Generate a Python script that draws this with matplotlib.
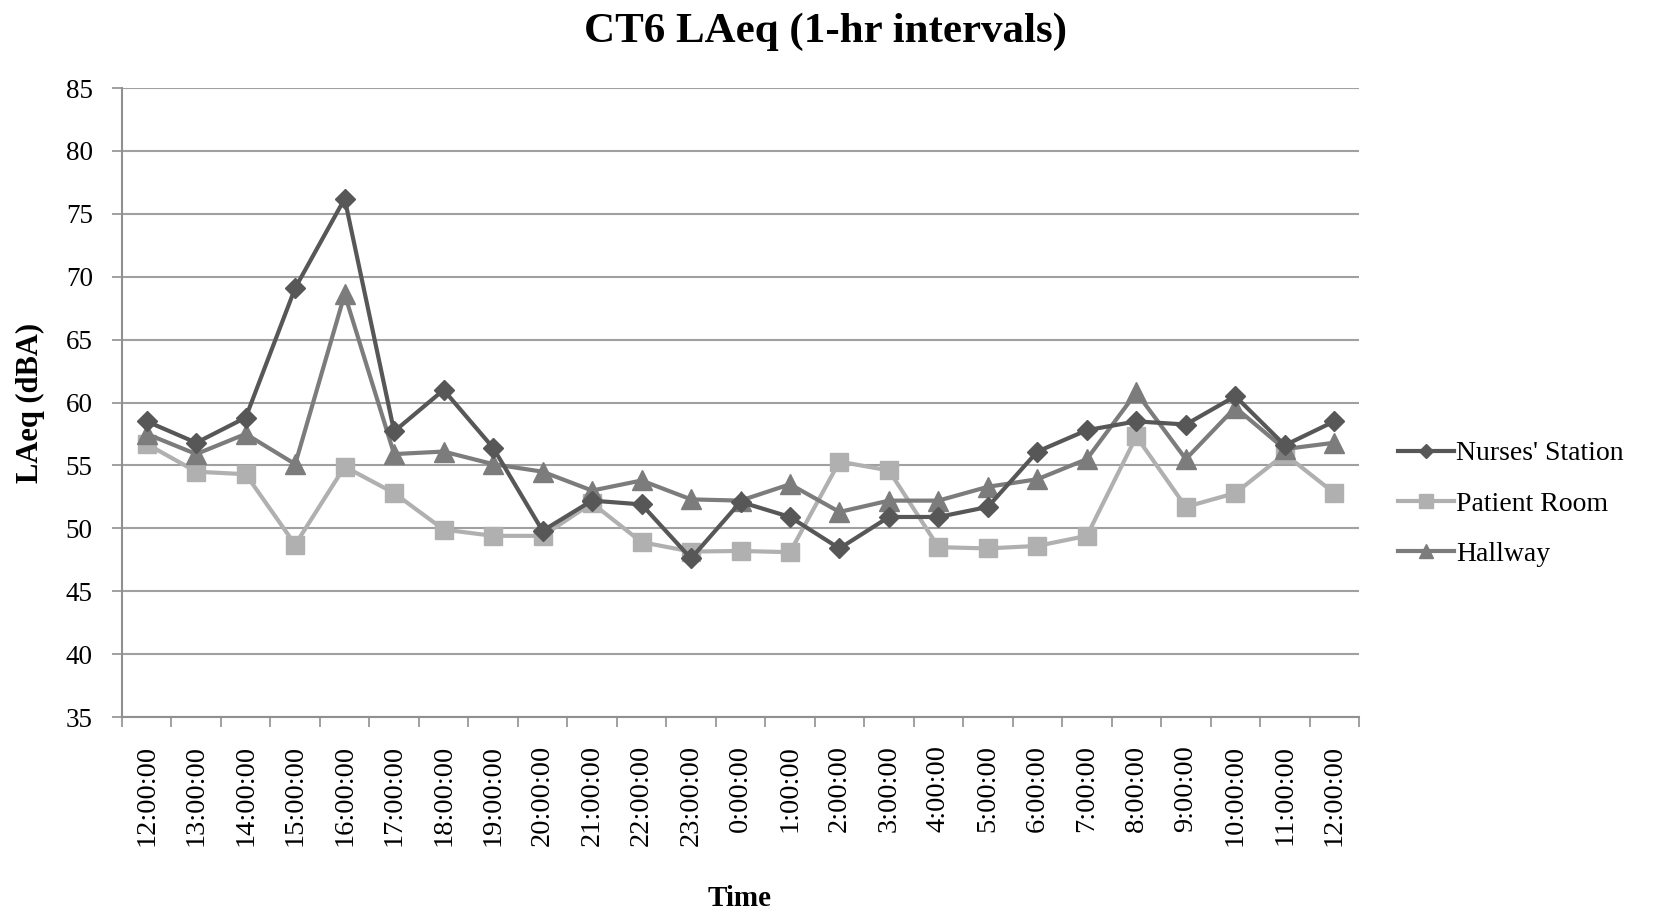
import matplotlib
matplotlib.use("Agg")
import matplotlib.pyplot as plt
import numpy as np

times = ["12:00:00", "13:00:00", "14:00:00", "15:00:00", "16:00:00", "17:00:00",
         "18:00:00", "19:00:00", "20:00:00", "21:00:00", "22:00:00", "23:00:00",
         "0:00:00", "1:00:00", "2:00:00", "3:00:00", "4:00:00", "5:00:00",
         "6:00:00", "7:00:00", "8:00:00", "9:00:00", "10:00:00", "11:00:00", "12:00:00"]

nurses = [58.5, 56.8, 58.8, 69.1, 76.2, 57.7, 61.0, 56.4, 49.8, 52.2, 51.9, 47.6,
          52.1, 50.9, 48.4, 50.9, 50.9, 51.7, 56.1, 57.8, 58.5, 58.25, 60.5, 56.6, 58.5]
patient = [56.7, 54.5, 54.3, 48.7, 54.9, 52.8, 49.9, 49.4, 49.4, 52.0, 48.9, 48.15,
           48.2, 48.1, 55.3, 54.6, 48.5, 48.4, 48.6, 49.4, 57.3, 51.7, 52.8, 55.9, 52.8]
hallway = [57.5, 55.9, 57.5, 55.1, 68.6, 55.9, 56.1, 55.1, 54.5, 53.0, 53.8, 52.3,
           52.2, 53.5, 51.3, 52.2, 52.2, 53.3, 53.9, 55.5, 60.8, 55.5, 59.6, 56.3, 56.8]

series_names = ["Nurses' Station", "Patient Room", "Hallway"]

plt.rcParams['font.family'] = ['Liberation Serif', 'DejaVu Serif']

W, H = 1663, 916
fig = plt.figure(figsize=(W / 100, H / 100), dpi=100)
L, R, T, B = 122, 1359, 88, 717
ax = fig.add_axes([L / W, 1 - B / H, (R - L) / W, (B - T) / H])

x = np.arange(len(times))
ax.plot(x, nurses, color="#575757", lw=3, marker="D", ms=10, label=series_names[0], zorder=3)
ax.plot(x, patient, color="#b0b0b0", lw=3, marker="s", ms=13, label=series_names[1], zorder=2)
ax.plot(x, hallway, color="#7c7c7c", lw=3, marker="^", ms=14, label=series_names[2], zorder=2.5)

ax.set_xlim(-0.5, len(times) - 0.5)
ax.set_ylim(35, 85)
ax.set_yticks(np.arange(35, 86, 5))
ax.tick_params(axis='y', labelsize=19.5, length=7, color="#909090", width=1.2, pad=14)
ax.yaxis.grid(True, color="#a0a0a0", lw=1.5)
ax.set_axisbelow(True)

ax.set_xticks(x)
ax.set_xticklabels(times, rotation=90, fontsize=20.5)
ax.set_xticks(np.arange(-0.5, len(times), 1), minor=True)
ax.tick_params(axis='x', which='major', length=0, pad=20)
ax.tick_params(axis='x', which='minor', length=7, color="#909090", width=1.2)

for s in ["top", "right"]:
    ax.spines[s].set_visible(False)
for s in ["left", "bottom"]:
    ax.spines[s].set_color("#909090")
    ax.spines[s].set_linewidth(1.5)

fig.text(30 / W, 1 - 403 / H, "LAeq (dBA)", fontsize=22, fontweight="bold",
         rotation=90, ha="center", va="center")
fig.text(740 / W, 1 - 898 / H, "Time", fontsize=21, fontweight="bold",
         ha="center", va="center")
fig.text(825 / W, 1 - 32 / H, "CT6 LAeq (1-hr intervals)", fontsize=31,
         fontweight="bold", ha="center", va="center")

ax.legend(loc="center left", bbox_to_anchor=((1398 - L) / (R - L), (B - 504) / (B - T)),
          frameon=False, fontsize=20, numpoints=1, handlelength=2.0, handletextpad=0.1,
          labelspacing=0.9, markerscale=0.75, borderaxespad=0, borderpad=0)

fig.savefig("out.png", dpi=100)
